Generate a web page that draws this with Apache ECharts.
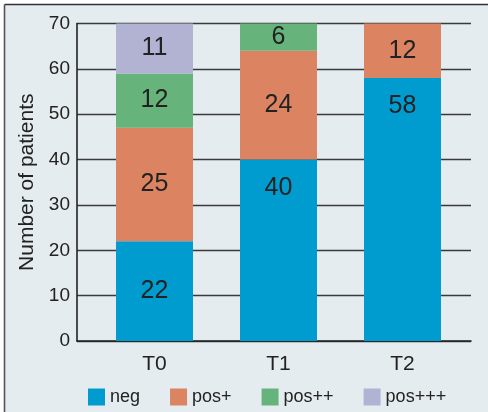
<!DOCTYPE html>
<html>
<head>
<meta charset="utf-8">
<script src="https://cdn.jsdelivr.net/npm/echarts@6/dist/echarts.min.js"></script>
<style>
  html, body { margin: 0; padding: 0; background: #ffffff; }
  #chart { width: 488px; height: 412px; }
</style>
</head>
<body>
<div id="chart"></div>
<script>
// Time points and patient counts per staining grade
const timepoints = ['T0', 'T1', 'T2'];
const seriesNames = ['neg', 'pos+', 'pos++', 'pos+++'];
const negCounts = [22, 40, 58];
const posOneCounts = [25, 24, 12];
const posTwoCounts = [12, 6, 0];
const posThreeCounts = [11, 0, 0];
const yTicks = [0, 10, 20, 30, 40, 50, 60, 70];

const colors = ['#019ccf', '#dc8461', '#66b47b', '#b2b3d2'];
const font = '"Liberation Sans", Arial, sans-serif';
const ink = '#222222';

const allCounts = [negCounts, posOneCounts, posTwoCounts, posThreeCounts];

function buildSeries(name, values, color) {
  return {
    name: name,
    type: 'bar',
    stack: 'patients',
    xAxisIndex: 0,
    yAxisIndex: 0,
    barWidth: 77,
    itemStyle: { color: color },
    data: values.map(function (v) {
      if (v === 0) return { value: null };
      // tall segments carry their count near the top
      const tall = v > 30;
      return {
        value: v,
        label: {
          show: true,
          position: tall ? 'insideTop' : 'inside',
          distance: tall ? 16 : 5
        }
      };
    }),
    label: {
      show: true,
      color: ink,
      fontSize: 25,
      fontFamily: font
    },
    emphasis: { disabled: true }
  };
}

const chart = echarts.init(document.getElementById('chart'), null, { renderer: 'canvas' });

chart.setOption({
  animation: false,
  backgroundColor: '#ffffff',
  textStyle: { fontFamily: font, color: ink },
  graphic: [
    { type: 'rect', z: -10, silent: true,
      shape: { x: 5, y: 5, width: 483, height: 407 },
      style: { fill: '#e4ecef' } },
    { type: 'line', z: -9, silent: true,
      shape: { x1: 4.5, y1: 4.5, x2: 488, y2: 4.5 },
      style: { stroke: '#333333', lineWidth: 1.6 } },
    { type: 'line', z: -9, silent: true,
      shape: { x1: 4.5, y1: 4.5, x2: 4.5, y2: 412 },
      style: { stroke: '#555555', lineWidth: 1.6 } }
  ],
  legend: {
    data: seriesNames,
    left: 83,
    top: 383,
    itemWidth: 17,
    itemHeight: 17,
    itemGap: 30,
    itemTextGap: 5,
    icon: 'rect',
    textStyle: { fontSize: 18, color: ink, fontFamily: font }
  },
  grid: [
    { left: 92.5, right: 23.5, top: 23.5, bottom: 71, containLabel: false },
    { left: 77, right: 17, top: 23.5, bottom: 71, containLabel: false }
  ],
  xAxis: [
    {
      type: 'category',
      gridIndex: 0,
      data: timepoints,
      axisLine: { show: false },
      axisTick: { show: false },
      axisLabel: { fontSize: 21, color: ink, margin: 13, fontFamily: font },
      splitLine: { show: false }
    },
    {
      type: 'value',
      gridIndex: 1,
      min: 0,
      max: 1,
      axisLine: { show: true, lineStyle: { color: '#222222', width: 1.6 } },
      axisTick: { show: false },
      axisLabel: { show: false },
      splitLine: { show: false }
    }
  ],
  yAxis: [
    {
      type: 'value',
      gridIndex: 0,
      min: 0,
      max: 70,
      show: false
    },
    {
      type: 'value',
      gridIndex: 1,
      min: yTicks[0],
      max: yTicks[yTicks.length - 1],
      interval: 10,
      name: 'Number of patients',
      nameLocation: 'middle',
      nameGap: 39,
      nameTextStyle: { fontSize: 21, color: ink, fontFamily: font },
      axisLine: { show: true, lineStyle: { color: '#222222', width: 1.6 } },
      axisTick: { show: false },
      axisLabel: { fontSize: 19, color: ink, margin: 7, fontFamily: font },
      splitLine: { show: true, lineStyle: { color: '#3a3a3a', width: 1.3 } }
    }
  ],
  series: seriesNames.map(function (n, i) {
    return buildSeries(n, allCounts[i], colors[i]);
  })
});
</script>
</body>
</html>
